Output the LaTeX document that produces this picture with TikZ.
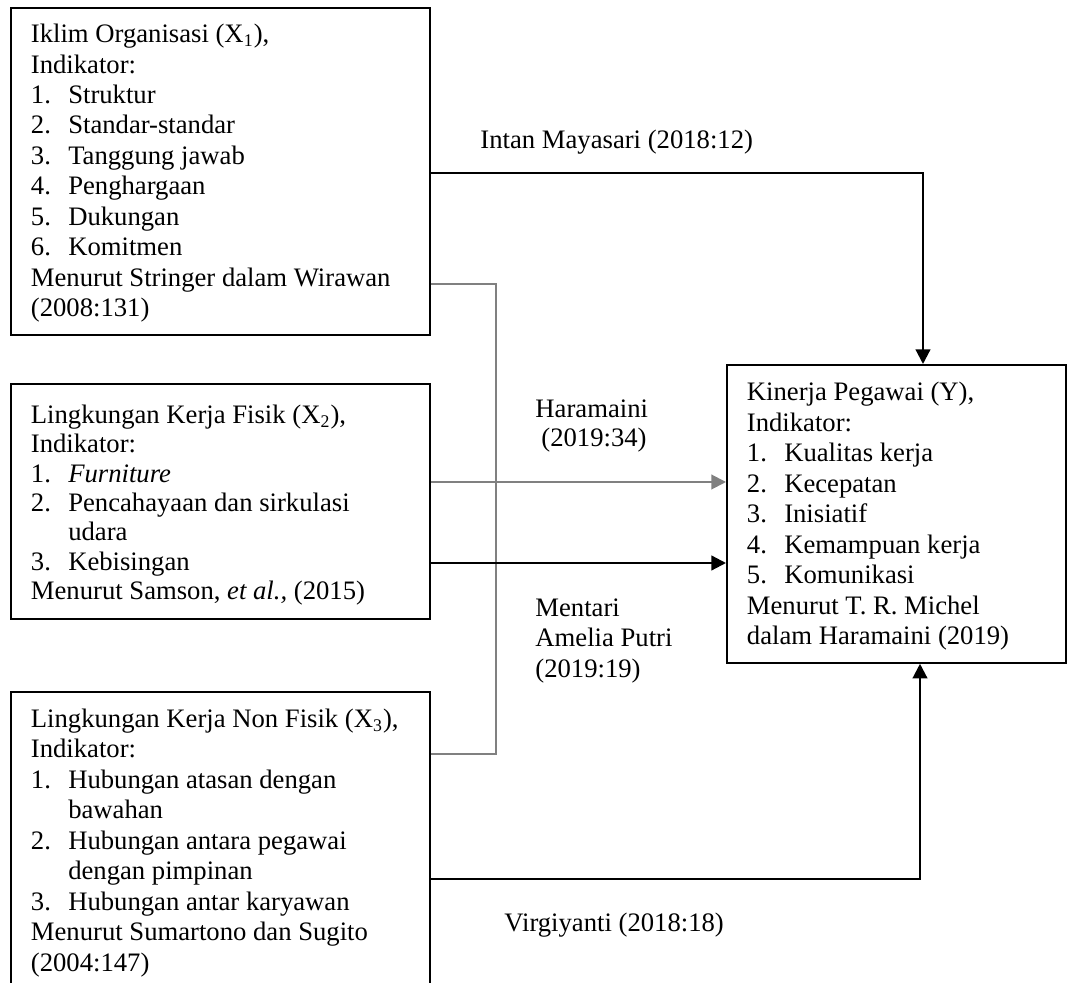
\documentclass[tikz,border=0pt]{standalone}
\usepackage{fontspec}
\setmainfont{Liberation Serif}
\usetikzlibrary{arrows.meta,calc}
\definecolor{lineGray}{RGB}{128,128,128}
\newcommand{\itm}[1]{\makebox[16.8pt][l]{#1}}
\newcommand{\cnt}{\hspace*{16.8pt}}
\newcommand{\st}{\rule{0pt}{10pt}}
\tikzset{
  box/.style={draw=black, line width=0.8pt, rectangle, inner sep=0pt, anchor=north west},
  txt/.style={anchor=north west, inner sep=0pt, align=left, font=\fontsize{12}{13.7}\selectfont},
  lbl/.style={anchor=base west, inner sep=0pt, font=\fontsize{12}{13.7}\selectfont},
  conn/.style={line width=1pt, draw=black},
  gconn/.style={line width=0.9pt, draw=lineGray},
  tip/.style={-{Triangle[width=6.6pt,length=6.6pt]}},
}
\begin{document}
\begin{tikzpicture}[x=0.45pt, y=-0.45pt]
\useasboundingbox (0,0) rectangle (1070,983);
\clip (0,0) rectangle (1070,983);

% boxes
\node[box, minimum width={419*0.45pt}, minimum height={327*0.45pt}] (b1) at (10,7) {};
\node[box, minimum width={419*0.45pt}, minimum height={235*0.45pt}] (b2) at (10,383) {};
\node[box, minimum width={419*0.45pt}, minimum height={330*0.45pt}] (b3) at (10,691) {};
\node[box, minimum width={339*0.45pt}, minimum height={298*0.45pt}] (bY) at (726,364) {};

% box texts
\node[txt] (t1) at (30.5,20) {\st Iklim Organisasi (X\textsubscript{1}),\\
Indikator:\\
\itm{1.}Struktur\\
\itm{2.}Standar-standar\\
\itm{3.}Tanggung jawab\\
\itm{4.}Penghargaan\\
\itm{5.}Dukungan\\
\itm{6.}Komitmen\\
Menurut Stringer dalam Wirawan\\
(2008:131)};

\node[txt, font=\fontsize{12}{13.2}\selectfont] (t2) at (30.5,400.8) {\st Lingkungan Kerja Fisik (X\textsubscript{2}),\\
Indikator:\\
\itm{1.}\textit{Furniture}\\
\itm{2.}Pencahayaan dan sirkulasi\\
\cnt udara\\
\itm{3.}Kebisingan\\
Menurut Samson, \textit{et al.,} (2015)};

\node[txt] (t3) at (30.5,704.8) {\st Lingkungan Kerja Non Fisik (X\textsubscript{3}),\\
Indikator:\\
\itm{1.}Hubungan atasan dengan\\
\cnt bawahan\\
\itm{2.}Hubungan antara pegawai\\
\cnt dengan pimpinan\\
\itm{3.}Hubungan antar karyawan\\
Menurut Sumartono dan Sugito\\
(2004:147)};

\node[txt] (tY) at (746.5,378.3) {\st Kinerja Pegawai (Y),\\
Indikator:\\
\itm{1.}Kualitas kerja\\
\itm{2.}Kecepatan\\
\itm{3.}Inisiatif\\
\itm{4.}Kemampuan kerja\\
\itm{5.}Komunikasi\\
Menurut T. R. Michel\\
dalam Haramaini (2019)};

% connector labels
\node[lbl] (l1) at (480,149) {Intan Mayasari (2018:12)};
\node[txt, font=\fontsize{12}{13.1}\selectfont] (l2) at (535,394.8) {\st Haramaini\\ \hspace*{2.7pt}(2019:34)};
\node[txt] (l3) at (535,593.8) {\st Mentari\\ Amelia Putri\\ (2019:19)};
\node[lbl] (l4) at (504,932) {Virgiyanti (2018:18)};

% connectors
\draw[gconn] ($(b1.north east)+(0,277)$) -- ++(65,0) |- ($(b3.north east)+(0,63)$);
\draw[gconn, tip, fill=lineGray] ($(b2.north east)+(0,99)$) -- ($(bY.north west)+(0,118)$);
\draw[conn, tip] ($(b1.north east)+(0,166)$) -| ($(bY.north west)+(197,0)$);
\draw[conn, tip] ($(b2.north east)+(0,180)$) -- ($(bY.north west)+(0,199)$);
\draw[conn, tip] ($(b3.north east)+(0,188)$) -| ($(bY.south west)+(194,0)$);
\end{tikzpicture}
\end{document}
